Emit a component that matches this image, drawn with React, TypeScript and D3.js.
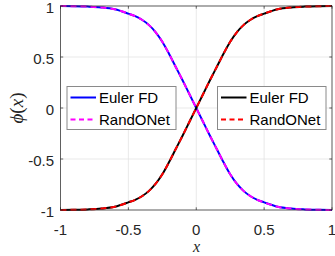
import React from "react";
import * as d3 from "d3";

const xValues = [-1, -0.9, -0.8, -0.7, -0.6, -0.5, -0.45, -0.4, -0.35, -0.3, -0.25, -0.2, -0.15, -0.1, -0.05, 0, 0.05, 0.1, 0.15, 0.2, 0.25, 0.3, 0.35, 0.4, 0.45, 0.5, 0.6, 0.7, 0.8, 0.9, 1];
const eulerDecreasing = [1.0, 0.998, 0.994, 0.986, 0.968, 0.925, 0.9, 0.865, 0.815, 0.745, 0.65, 0.53, 0.4, 0.27, 0.135, 0, -0.135, -0.27, -0.4, -0.53, -0.65, -0.745, -0.815, -0.865, -0.9, -0.925, -0.968, -0.986, -0.994, -0.998, -1.0];
const randonetDecreasing = [1.0, 0.998, 0.994, 0.986, 0.968, 0.925, 0.9, 0.865, 0.815, 0.745, 0.65, 0.53, 0.4, 0.27, 0.135, 0, -0.135, -0.27, -0.4, -0.53, -0.65, -0.745, -0.815, -0.865, -0.9, -0.925, -0.968, -0.986, -0.994, -0.998, -1.0];
const eulerIncreasing = [-1.0, -0.998, -0.994, -0.986, -0.968, -0.925, -0.9, -0.865, -0.815, -0.745, -0.65, -0.53, -0.4, -0.27, -0.135, 0, 0.135, 0.27, 0.4, 0.53, 0.65, 0.745, 0.815, 0.865, 0.9, 0.925, 0.968, 0.986, 0.994, 0.998, 1.0];
const randonetIncreasing = [-1.0, -0.998, -0.994, -0.986, -0.968, -0.925, -0.9, -0.865, -0.815, -0.745, -0.65, -0.53, -0.4, -0.27, -0.135, 0, 0.135, 0.27, 0.4, 0.53, 0.65, 0.745, 0.815, 0.865, 0.9, 0.925, 0.968, 0.986, 0.994, 0.998, 1.0];

const xTicks = [-1, -0.5, 0, 0.5, 1];
const yTicks = [-1, -0.5, 0, 0.5, 1];
const xTickLabels = ["-1", "-0.5", "0", "0.5", "1"];
const yTickLabels = ["-1", "-0.5", "0", "0.5", "1"];
const legendLabels = ["Euler FD", "RandONet"];

const W = 335;
const H = 256;
const left = 60.5;
const right = 332;
const top = 6;
const bottom = 210;
const axisColor = "#262626";
const font = "'Liberation Sans', Arial, Helvetica, sans-serif";
const mathFont = "'Liberation Serif', 'DejaVu Serif', serif";

export default function App() {
  const x = d3.scaleLinear().domain([-1, 1]).range([left, right]);
  const y = d3.scaleLinear().domain([-1, 1]).range([bottom, top]);
  const line = d3
    .line<number>()
    .x((_, i) => x(xValues[i]))
    .y((d) => y(d))
    .curve(d3.curveMonotoneX);

  const tickLen = 2.7;

  const legend = (lx: number, lw: number, solid: string, dashed: string) => {
    const ly = 86.5;
    const lh = 43;
    const rows = [97.5, 119.5];
    return (
      <g>
        <rect x={lx} y={ly} width={lw} height={lh} fill="#ffffff" stroke="#8a8a8a" strokeWidth={1} />
        <line x1={lx + 3.5} x2={lx + 29} y1={rows[0]} y2={rows[0]} stroke={solid} strokeWidth={2} />
        <line x1={lx + 3.5} x2={lx + 29} y1={rows[1]} y2={rows[1]} stroke={dashed} strokeWidth={2} strokeDasharray="5,3.5" />
        {legendLabels.map((t, i) => (
          <text key={t} x={lx + 32} y={rows[i]} dominantBaseline="central" fontSize={15} fontFamily={font} fill="#000">
            {t}
          </text>
        ))}
      </g>
    );
  };

  return (
    <svg width={W} height={H} style={{ position: "absolute", left: 0, top: 0, background: "#fff" }}>
      <rect x={0} y={0} width={W} height={H} fill="#fff" />
      {xTicks.map((t) => (
        <line key={"gx" + t} x1={x(t)} x2={x(t)} y1={top} y2={bottom} stroke="#e3e3e3" strokeWidth={0.8} />
      ))}
      {yTicks.map((t) => (
        <line key={"gy" + t} x1={left} x2={right} y1={y(t)} y2={y(t)} stroke="#e3e3e3" strokeWidth={0.8} />
      ))}
      <path d={line(eulerDecreasing) || ""} fill="none" stroke="#0000ff" strokeWidth={2} />
      <path d={line(randonetDecreasing) || ""} fill="none" stroke="#ff00ff" strokeWidth={2} strokeDasharray="6,4" />
      <path d={line(eulerIncreasing) || ""} fill="none" stroke="#000000" strokeWidth={2} />
      <path d={line(randonetIncreasing) || ""} fill="none" stroke="#ff0000" strokeWidth={2} strokeDasharray="6,4" />
      <rect x={left} y={top} width={right - left} height={bottom - top} fill="none" stroke={axisColor} strokeWidth={0.7} />
      {xTicks.map((t) => (
        <g key={"tx" + t}>
          <line x1={x(t)} x2={x(t)} y1={bottom} y2={bottom - tickLen} stroke={axisColor} strokeWidth={0.7} />
          <line x1={x(t)} x2={x(t)} y1={top} y2={top + tickLen} stroke={axisColor} strokeWidth={0.7} />
        </g>
      ))}
      {yTicks.map((t) => (
        <g key={"ty" + t}>
          <line x1={left} x2={left + tickLen} y1={y(t)} y2={y(t)} stroke={axisColor} strokeWidth={0.7} />
          <line x1={right} x2={right - tickLen} y1={y(t)} y2={y(t)} stroke={axisColor} strokeWidth={0.7} />
        </g>
      ))}
      {xTicks.map((t, i) => (
        <text key={"lx" + t} x={x(t)} y={229} textAnchor="middle" dominantBaseline="central" fontSize={15} fontFamily={font} fill={axisColor}>
          {xTickLabels[i]}
        </text>
      ))}
      {yTicks.map((t, i) => (
        <text key={"ly" + t} x={54} y={y(t) + 1.5} textAnchor="end" dominantBaseline="central" fontSize={15} fontFamily={font} fill={axisColor}>
          {yTickLabels[i]}
        </text>
      ))}
      <text x={196.5} y={252} textAnchor="middle" fontSize={16} fontFamily={mathFont} fontStyle="italic" fill={axisColor}>
        x
      </text>
      <text transform="translate(16,108) rotate(-90)" textAnchor="middle" dominantBaseline="central" fontSize={19} fontFamily={mathFont} fill={axisColor}>
        <tspan fontStyle="italic">ϕ</tspan>
        <tspan>(</tspan>
        <tspan fontStyle="italic">x</tspan>
        <tspan>)</tspan>
      </text>
      {legend(67, 109, "#0000ff", "#ff00ff")}
      {legend(217.5, 108.5, "#000000", "#ff0000")}
    </svg>
  );
}
